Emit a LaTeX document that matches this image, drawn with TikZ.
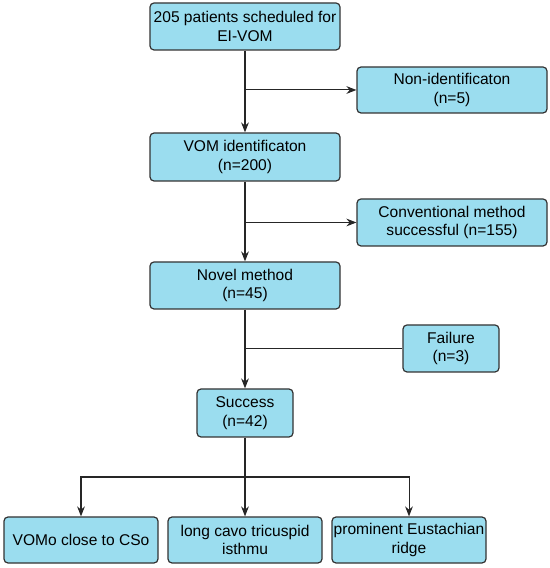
\documentclass[tikz,border=0pt]{standalone}
\usepackage{fontspec}
\setmainfont{Liberation Sans}
\usetikzlibrary{arrows.meta}
\definecolor{boxfill}{HTML}{9BDDEF}
\definecolor{boxline}{HTML}{333333}
\tikzset{
  stepbox/.style={draw=boxline, fill=boxfill, line width=1.2pt, rounded corners=0.14cm,
    inner sep=0pt, align=center, font=\fontsize{15.5pt}{18.5pt}\selectfont,
    minimum width=6.65cm, minimum height=1.645cm},
  sidebox/.style={stepbox, minimum width=3.36cm},
  leafbox/.style={stepbox, minimum width=5.39cm, minimum height=1.61cm},
  flow/.style={draw=black!85, line width=1pt, -{Stealth[length=3.5mm, width=2.7mm]}},
  plainflow/.style={draw=black!85, line width=1pt},
}

\begin{document}
\begin{tikzpicture}
\useasboundingbox (0,0) rectangle (19.250,19.880);
\node[stepbox] (scheduled) at (8.575,18.953) {205 patients scheduled for\\EI-VOM};
\node[stepbox, minimum height=1.61cm] (nonident) at (15.820,16.730) {Non-identificaton\\(n=5)};
\node[stepbox, minimum height=1.68cm] (ident) at (8.575,14.385) {VOM identificaton\\(n=200)};
\node[stepbox] (conventional) at (15.820,12.093) {Conventional method\\successful (n=155)};
\node[stepbox] (novel) at (8.575,9.888) {Novel method\\(n=45)};
\node[sidebox] (failure) at (15.785,7.683) {Failure\\(n=3)};
\node[sidebox, minimum height=1.68cm] (success) at (8.575,5.425) {Success\\(n=42)};
\node[leafbox] (vomo) at (2.835,0.980) {VOMo close to CSo};
\node[leafbox] (isthmu) at (8.575,0.980) {long cavo tricuspid\\isthmu};
\node[leafbox] (ridge) at (14.315,0.980) {prominent Eustachian\\ridge};
\coordinate (split) at (8.575,3.185);
\draw[flow] (scheduled) -- (ident);
\draw[flow] (scheduled |- nonident) -- (nonident);
\draw[flow] (ident) -- (novel);
\draw[flow] (ident |- conventional) -- (conventional);
\draw[flow] (novel) -- (success);
\draw[plainflow] (novel |- failure) -- (failure);
\draw[flow] (success) -- (isthmu);
\draw[flow] (split) -| (vomo);
\draw[flow] (split) -| (ridge);
\end{tikzpicture}
\end{document}
